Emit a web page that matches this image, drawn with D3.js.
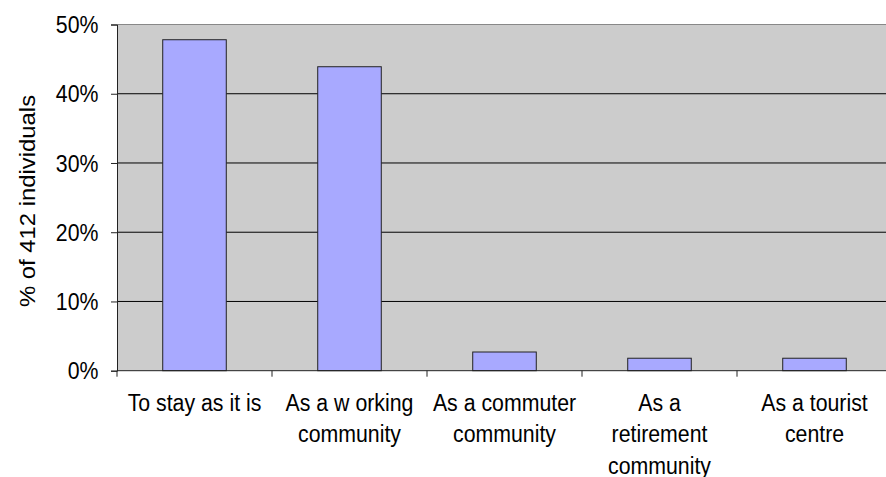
<!DOCTYPE html>
<html><head><meta charset="utf-8">
<script src="https://cdn.jsdelivr.net/npm/d3@7"></script>
<style>body{margin:0;background:#fff}svg{display:block}text{font-family:"Liberation Sans",Arial,sans-serif}</style>
</head><body>
<svg id="c" width="886" height="477"></svg>
<script>
const categories = [["To stay as it is"],["As a w orking","community"],["As a commuter","community"],["As a","retirement","community"],["As a tourist","centre"]];
const values = [47.8, 43.9, 2.7, 1.8, 1.8];
const yTicks = [0,10,20,30,40,50];
const yTitle = "% of 412 individuals";

const FS = 21.3, SY = 1.12;
const svg = d3.select("#c");
const L=117, R=892, T=24.5, B=370.7;
const x = d3.scaleBand().domain(d3.range(categories.length)).range([L,R]).paddingInner(0.59).paddingOuter(0.295);
const xc = d3.scaleBand().domain(d3.range(categories.length)).range([L,R]);
const y = d3.scaleLinear().domain([0,50]).range([B,T]);

svg.append("rect").attr("x",L).attr("y",T).attr("width",R-L).attr("height",B-T).attr("fill","#cccccc");
svg.append("line").attr("x1",L).attr("x2",R).attr("y1",T).attr("y2",T).attr("stroke","#888").attr("stroke-width",1.2);
svg.append("g").selectAll("line").data(yTicks.filter(d=>d>0&&d<50)).join("line")
  .attr("x1",L).attr("x2",R).attr("y1",d=>y(d)).attr("y2",d=>y(d)).attr("stroke","#000").attr("stroke-width",1);

svg.append("g").selectAll("rect").data(values).join("rect")
  .attr("x",(d,i)=>x(i)).attr("width",x.bandwidth()).attr("y",d=>y(d)).attr("height",d=>B-y(d))
  .attr("fill","#a8a9ff").attr("stroke","#222").attr("stroke-width",1);

// y axis
const ya = d3.axisLeft(y).tickValues(yTicks).tickFormat("").tickSize(6);
const gy = svg.append("g").attr("transform",`translate(${L},0)`).call(ya);
gy.select(".domain").attr("stroke","#222");
gy.selectAll("line").attr("stroke","#222");
svg.append("g").selectAll("text").data(yTicks).join("text")
  .attr("transform",d=>`translate(98.5,${y(d)+0.358*FS*SY}) scale(1,${SY})`)
  .attr("text-anchor","end").attr("font-size",FS).attr("fill","#000").text(d=>d+"%");

// x axis
const gx = svg.append("g").attr("transform",`translate(0,${B})`);
gx.append("line").attr("x1",L).attr("x2",R).attr("stroke","#222");
gx.selectAll(".tk").data(d3.range(categories.length+1)).join("line")
  .attr("x1",i=>L+i*xc.step()).attr("x2",i=>L+i*xc.step()).attr("y1",0).attr("y2",6).attr("stroke","#222");
categories.forEach((lines,i)=>{
  const cx = xc(i)+xc.bandwidth()/2;
  lines.forEach((s,j)=>{
    gx.append("text").attr("text-anchor","middle").attr("font-size",FS).attr("fill","#000")
      .attr("transform",`translate(${cx},${40.5+j*31.2}) scale(1,${SY})`).text(s);
  });
});

svg.append("text").attr("transform",`translate(34.5,201) rotate(-90) scale(${SY},1)`).attr("text-anchor","middle")
  .attr("font-size",FS).attr("fill","#000").text(yTitle);
</script>
</body></html>
